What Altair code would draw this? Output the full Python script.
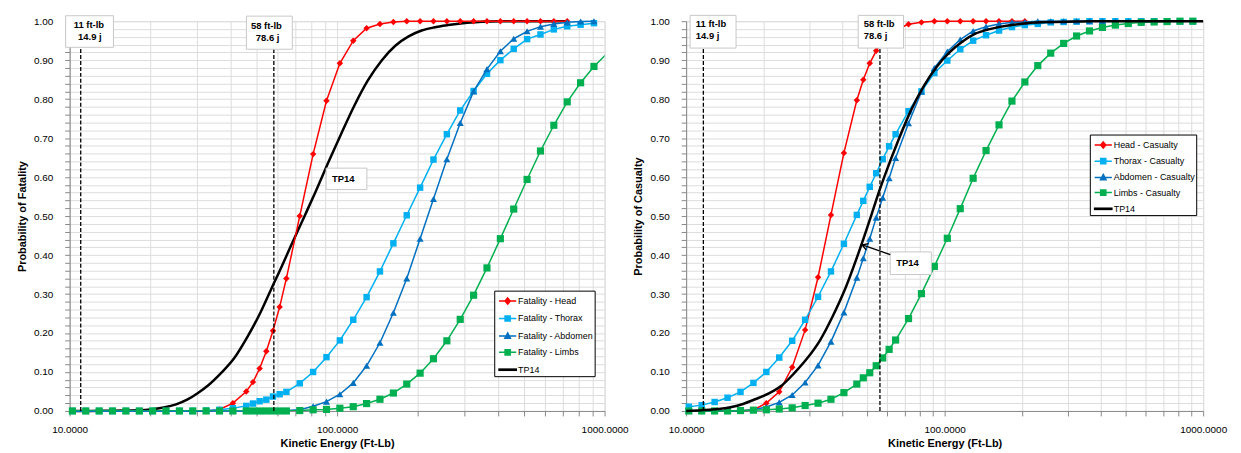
import altair as alt
import pandas as pd

FONT = "Liberation Sans, Arial, sans-serif"

# ---------------- data ----------------
energy_ftlb = [10.24, 11.49, 12.89, 14.46, 16.23, 18.21, 20.43, 22.92, 25.72, 28.86,
               32.38, 36.33, 40.77, 45.74, 48.45, 51.32, 54.36, 57.58, 60.99, 64.61,
               72.49, 81.34, 91.26, 102.4, 114.9, 128.9, 144.6, 162.3, 182.1, 204.3,
               229.2, 257.2, 288.6, 323.8, 363.3, 407.7, 457.4, 513.2, 575.8, 646.1,
               724.9, 813.4, 912.6, 1024.0]

fatality_head = [0, 0, 0, 0, 0, 0, 0, 0, 0, 0,
                 0, 0.004, 0.02, 0.05, 0.074, 0.109, 0.153, 0.206, 0.267, 0.34,
                 0.50, 0.659, 0.796, 0.892, 0.95, 0.982, 0.993, 0.998, 1.0, 1.0,
                 1.0, 1.0, 1.0, 1.0, 1.0, 1.0, 1.0, 1.0, 1.0, 1.0,
                 1.0, None, None, None]
fatality_thorax = [0, 0, 0, 0, 0, 0, 0, 0, 0, 0,
                   0.001, 0.003, 0.007, 0.013, 0.019, 0.025, 0.029, 0.037, 0.043, 0.049,
                   0.071, 0.10, 0.138, 0.181, 0.234, 0.292, 0.358, 0.43, 0.502, 0.573,
                   0.645, 0.71, 0.771, 0.821, 0.865, 0.90, 0.929, 0.954, 0.966, 0.979,
                   0.987, 0.991, 0.995, None]
fatality_abdomen = [0, 0, 0, 0, 0, 0, 0, 0, 0, 0,
                    0, 0, 0, 0, 0, 0, 0, 0, 0, 0.001,
                    0.003, 0.012, 0.024, 0.043, 0.072, 0.116, 0.175, 0.252, 0.34, 0.442,
                    0.544, 0.646, 0.739, 0.82, 0.877, 0.923, 0.955, 0.974, 0.986, 0.993,
                    0.997, 0.999, 1.0, None]
fatality_limbs = [0, 0, 0, 0, 0, 0, 0, 0, 0, 0,
                  0, 0, 0, 0, 0, 0, 0, 0, 0, 0,
                  0.001, 0.003, 0.004, 0.007, 0.011, 0.019, 0.03, 0.046, 0.069, 0.097,
                  0.134, 0.18, 0.235, 0.297, 0.367, 0.442, 0.518, 0.594, 0.667, 0.733,
                  0.793, 0.842, 0.884, 0.918]

casualty_head = [0, 0, 0, 0, 0, 0.003, 0.02, 0.049, 0.112, 0.208,
                 0.343, 0.503, 0.662, 0.797, 0.85, 0.892, 0.924, 0.95, 0.967, 0.978,
                 0.992, 0.997, 1.0, 1.0, 1.0, 1.0, 1.0, 1.0, 1.0, 1.0,
                 None, None, None, None, None, None, None, None, None, None,
                 None, None, None, None]
casualty_thorax = [0.011, 0.015, 0.023, 0.034, 0.049, 0.072, 0.10, 0.137, 0.18, 0.234,
                   0.293, 0.358, 0.429, 0.503, 0.539, 0.575, 0.61, 0.646, 0.679, 0.71,
                   0.769, 0.82, 0.867, 0.899, 0.928, 0.95, 0.964, 0.976, 0.985, 0.99,
                   0.993, 0.997, 0.998, 0.999, 1.0, 1.0, 1.0, 1.0, 1.0, 1.0,
                   1.0, 1.0, 1.0, None]
casualty_abdomen = [0, 0, 0, 0, 0, 0.003, 0.01, 0.022, 0.041, 0.073,
                    0.117, 0.178, 0.253, 0.342, 0.392, 0.442, 0.496, 0.547, 0.597, 0.649,
                    0.738, 0.819, 0.88, 0.922, 0.953, 0.975, 0.986, 0.993, 0.997, 0.998,
                    1.0, 1.0, 1.0, 1.0, 1.0, 1.0, 1.0, 1.0, 1.0, 1.0,
                    1.0, 1.0, 1.0, None]
casualty_limbs = [0, 0, 0, 0, 0.001, 0.002, 0.003, 0.005, 0.008, 0.014,
                  0.02, 0.03, 0.047, 0.069, 0.085, 0.098, 0.116, 0.136, 0.158, 0.182,
                  0.237, 0.301, 0.371, 0.443, 0.519, 0.597, 0.668, 0.734, 0.795, 0.844,
                  0.886, 0.918, 0.943, 0.962, 0.975, 0.984, 0.99, 0.994, 0.997, 0.998,
                  0.999, 1.0, 1.0, None]

tp14_fatality_energy = [10, 12, 14, 16, 18, 20, 22.5, 25, 27.5, 30, 33,
                        36.8, 41.2, 46.2, 51.8, 56.9, 62, 67, 75.9, 83, 92.2,
                        102.8, 116.3, 130.3, 147, 165, 185, 207, 230, 260, 290,
                        328, 370, 410, 500, 600, 725]
tp14_fatality_prob = [0.0, 0.0, 0.0005, 0.001, 0.002, 0.004, 0.009, 0.017, 0.029, 0.045, 0.066,
                      0.097, 0.135, 0.19, 0.254, 0.315, 0.37, 0.422, 0.503, 0.562, 0.634,
                      0.706, 0.785, 0.848, 0.9, 0.937, 0.961, 0.976, 0.984, 0.99, 0.994,
                      0.997, 0.999, 1.0, 1.0, 1.0, 1.0]

tp14_casualty_energy = [10, 11.5, 13.3, 15, 16.6, 18.5, 20.9, 23.5, 26.2, 29.4,
                        33.0, 36.9, 41.5, 46.7, 52.5, 55.7, 58.9, 65.8, 73.7, 82.8,
                        92.9, 104.4, 117.3, 131.5, 148, 165.5, 185, 208, 261, 320,
                        372, 500, 700, 1000]
tp14_casualty_prob = [0.0, 0.002, 0.005, 0.01, 0.018, 0.03, 0.045, 0.066, 0.097, 0.135,
                      0.182, 0.243, 0.318, 0.41, 0.51, 0.562, 0.607, 0.69, 0.768, 0.832,
                      0.882, 0.92, 0.948, 0.968, 0.979, 0.986, 0.991, 0.995, 0.998, 0.999,
                      1.0, 1.0, 1.0, 1.0]

fatality_names = ["Fatality - Head", "Fatality - Thorax", "Fatality - Abdomen", "Fatality - Limbs", "TP14"]
casualty_names = ["Head - Casualty", "Thorax - Casualty", "Abdomen - Casualty", "Limbs - Casualty", "TP14"]

# dashed reference lines (11 ft-lb and 58 ft-lb), as placed in each panel
fat_ref_energy = [11, 58]
fat_ref_top = [0.931, 0.929]
cas_ref_energy = [11.66, 56.2]
cas_ref_top = [0.931, 0.931]

# annotation boxes (energy from/to, probability from/to)
fat_box_e1 = [9.66, 45.8, 91.0]
fat_box_e2 = [14.58, 68.0, 129.2]
fat_box_p1 = [0.933, 0.928, 0.568]
fat_box_p2 = [1.014, 1.013, 0.623]
fat_text = ["11 ft-lb", "14.9 j", "58 ft-lb", "78.6  j", "TP14"]
fat_text_e = [11.8, 11.9, 54.4, 55.0, 105.4]
fat_text_p = [0.991, 0.960, 0.987, 0.957, 0.596]

cas_box_e1 = [10.36, 46.3, 61.6]
cas_box_e2 = [15.6, 69.3, 88.8]
cas_box_p1 = [0.931, 0.931, 0.350]
cas_box_p2 = [1.015, 1.015, 0.408]
cas_text = ["11 ft-lb", "14.9 j", "58 ft-lb", "78.6  j", "TP14"]
cas_text_e = [10.9, 10.9, 48.6, 48.6, 65.0]
cas_text_p = [0.992, 0.961, 0.992, 0.961, 0.38]

arrow_e_from = [61.6]
arrow_e_to = [48.0]
arrow_p_from = [0.401]
arrow_p_to = [0.426]

x_ticks = [10, 20, 30, 40, 50, 60, 70, 80, 90, 100, 200, 300, 400, 500, 600, 700, 800, 900, 1000]
y_ticks = [0.0, 0.02, 0.04, 0.06, 0.08, 0.1, 0.12, 0.14, 0.16, 0.18, 0.2, 0.22, 0.24, 0.26, 0.28,
           0.3, 0.32, 0.34, 0.36, 0.38, 0.4, 0.42, 0.44, 0.46, 0.48, 0.5, 0.52, 0.54, 0.56, 0.58,
           0.6, 0.62, 0.64, 0.66, 0.68, 0.7, 0.72, 0.74, 0.76, 0.78, 0.8, 0.82, 0.84, 0.86, 0.88,
           0.9, 0.92, 0.94, 0.96, 0.98, 1.0]

# ---------------- styles ----------------
series_colors = ["#FF0000", "#00B0F0", "#0070C0", "#00B050", "#000000"]
marker_shapes = ["diamond", "square", "triangle-up", "square"]
marker_sizes = [42, 42, 50, 52]
legend_paths = [
    "M-1,0H1M0,-0.36L0.3,0L0,0.36L-0.3,0Z",
    "M-1,0H1M-0.3,-0.3H0.3V0.3H-0.3Z",
    "M-1,0H1M0,-0.34L0.32,0.26H-0.32Z",
    "M-1,0H1M-0.3,-0.3H0.3V0.3H-0.3Z",
    "M-1,-0.07H1V0.07H-1Z",
]
ARROW_PATH = "M-0.8,1.3L0,0L0.8,1.3"

X_LABELS = "(datum.value == 10 || datum.value == 100 || datum.value == 1000) ? format(datum.value, '.4f') : ''"
Y_LABELS = "abs(datum.value * 10 - round(datum.value * 10)) < 0.001 ? format(datum.value, '.2f') : ''"


def xenc(field="E"):
    return alt.X(f"{field}:Q",
                 scale=alt.Scale(type="log", domain=[10, 1000], nice=False),
                 axis=alt.Axis(values=x_ticks, labelExpr=X_LABELS, title="Kinetic Energy (Ft-Lb)",
                               labelPadding=9, titlePadding=3, labelFlush=False, labelOverlap=False))


def yenc(title, field="P"):
    return alt.Y(f"{field}:Q",
                 scale=alt.Scale(domain=[0, 1], nice=False, zero=False),
                 axis=alt.Axis(values=y_ticks, labelExpr=Y_LABELS, title=title,
                               labelPadding=12, titlePadding=6, labelFlush=False, labelOverlap=False))


def series_layers(values, idx, ytitle, clip_line=False):
    df = pd.DataFrame({"E": energy_ftlb, "P": values}).dropna()
    line = alt.Chart(df).mark_line(color=series_colors[idx], strokeWidth=1.5, clip=clip_line).encode(
        x=xenc(), y=yenc(ytitle))
    pts = alt.Chart(df).transform_filter(alt.datum.E <= 1000).mark_point(
        shape=marker_shapes[idx], size=marker_sizes[idx], filled=True, opacity=1,
        color=series_colors[idx]).encode(x=xenc(), y=yenc(ytitle))
    return [line, pts]


def tp14_layer(energy, prob, ytitle):
    df = pd.DataFrame({"E": energy, "P": prob})
    return alt.Chart(df).mark_line(color="#000000", strokeWidth=2.5, interpolate="monotone").encode(
        x=xenc(), y=yenc(ytitle))


def legend_layer(names, ytitle, lx, ly, row_pad):
    df = pd.DataFrame({"E": [100.0] * len(names), "P": [0.5] * len(names), "series": names})
    leg = alt.Legend(title=None, orient="none", legendX=lx, legendY=ly, fillColor="white",
                     strokeColor="#000000", padding=1, labelFont=FONT, labelFontSize=9,
                     labelColor="#000000", symbolSize=300, symbolStrokeWidth=1.5, rowPadding=row_pad,
                     symbolOffset=3, labelOffset=1, labelLimit=300)
    return alt.Chart(df).transform_filter("false").mark_point(filled=True, strokeWidth=1.5, opacity=1).encode(
        x=xenc(), y=yenc(ytitle),
        shape=alt.Shape("series:N", scale=alt.Scale(domain=names, range=legend_paths), legend=leg),
        fill=alt.Fill("series:N", scale=alt.Scale(domain=names, range=series_colors), legend=leg),
        stroke=alt.Stroke("series:N", scale=alt.Scale(domain=names, range=series_colors), legend=leg),
    )


def annotation_layers(ytitle, ref_e, ref_top, be1, be2, bp1, bp2, txt, te, tp, align):
    rules_df = pd.DataFrame({"E": ref_e, "P": [0, 0], "P2": ref_top})
    rules = alt.Chart(rules_df).mark_rule(color="#000000", strokeDash=[4, 2], strokeWidth=1.3).encode(
        x=xenc(), y=yenc(ytitle), y2="P2:Q")
    box_df = pd.DataFrame({"E": be1, "E2": be2, "P": bp1, "P2": bp2})
    boxes = alt.Chart(box_df).mark_rect(fill="white", stroke="#C8C8C8", strokeWidth=1).encode(
        x=xenc(), x2="E2:Q", y=yenc(ytitle), y2="P2:Q")
    txt_df = pd.DataFrame({"E": te, "P": tp, "label": txt})
    texts = alt.Chart(txt_df).mark_text(font=FONT, fontSize=9.5, fontWeight="bold", color="#000000",
                                        align=align, baseline="middle").encode(
        x=xenc(), y=yenc(ytitle), text="label:N")
    return [rules, boxes, texts]


# ---------------- left panel ----------------
YT_L = "Probability of Fatality"
left_layers = [tp14_layer(tp14_fatality_energy, tp14_fatality_prob, YT_L)]
left_layers += series_layers(fatality_head, 0, YT_L)
left_layers += series_layers(fatality_thorax, 1, YT_L)
left_layers += series_layers(fatality_abdomen, 2, YT_L)
left_layers += series_layers(fatality_limbs, 3, YT_L, clip_line=True)
left_layers += annotation_layers(YT_L, fat_ref_energy, fat_ref_top, fat_box_e1, fat_box_e2,
                                 fat_box_p1, fat_box_p2, fat_text, fat_text_e, fat_text_p, "center")
left_layers.append(legend_layer(fatality_names, YT_L, 427, 271, 1.5))
left = alt.layer(*left_layers).properties(width=538, height=392)

# ---------------- right panel ----------------
YT_R = "Probability of Casualty"
right_layers = []
right_layers += series_layers(casualty_head, 0, YT_R)
right_layers += series_layers(casualty_thorax, 1, YT_R)
right_layers += series_layers(casualty_abdomen, 2, YT_R)
right_layers += series_layers(casualty_limbs, 3, YT_R)
right_layers.append(tp14_layer(tp14_casualty_energy, tp14_casualty_prob, YT_R))
right_layers += annotation_layers(YT_R, cas_ref_energy, cas_ref_top, cas_box_e1, cas_box_e2,
                                  cas_box_p1, cas_box_p2, cas_text, cas_text_e, cas_text_p, "left")
arrow_df = pd.DataFrame({"E": arrow_e_from, "E2": arrow_e_to, "P": arrow_p_from, "P2": arrow_p_to})
right_layers.append(alt.Chart(arrow_df).mark_rule(color="#000000", strokeWidth=1.5).encode(
    x=xenc(), x2="E2:Q", y=yenc(YT_R), y2="P2:Q"))
head_df = pd.DataFrame({"E": arrow_e_to, "P": arrow_p_to})
right_layers.append(alt.Chart(head_df).mark_point(shape=ARROW_PATH, size=70, filled=False, strokeWidth=1.5,
                                                  color="#000000", angle=290, opacity=1).encode(
    x=xenc(), y=yenc(YT_R)))
right_layers.append(legend_layer(casualty_names, YT_R, 406, 114, 0.3))
right = alt.layer(*right_layers).properties(width=520, height=392)

chart = alt.hconcat(left, right, spacing=82, bounds="flush",
                    padding={"left": 8, "top": 5, "right": 5, "bottom": 0}).resolve_scale(
    x="independent", y="independent", fill="independent", stroke="independent", shape="independent"
).resolve_legend(fill="independent", stroke="independent", shape="independent").configure_view(
    stroke=None
).configure_axis(
    labelFont=FONT, titleFont=FONT, labelFontSize=10, titleFontSize=9,
    labelFontWeight="bold", titleFontWeight="bold", labelColor="#000000", titleColor="#000000",
    gridColor="#C4C4C4", gridWidth=1, domainColor="#8C8C8C", ticks=False,
    labelFlush=False, labelOverlap=False
).configure(background="white")

chart.save("out.html", embed_options={"renderer": "svg", "actions": False})
